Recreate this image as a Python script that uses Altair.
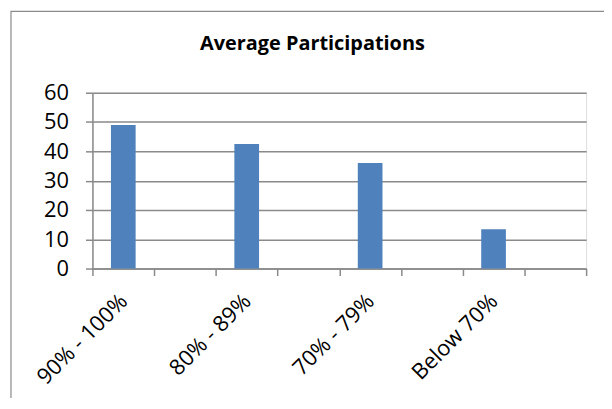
import altair as alt
import pandas as pd

categories = ["90% - 100%", "80% - 89%", "70% - 79%", "Below 70%"]
values = [49.0, 42.5, 36.0, 13.4]
gaps = [" ", "  ", "   ", "    "]
y_ticks = [0, 10, 20, 30, 40, 50, 60]

domain = []
for c, g in zip(categories, gaps):
    domain += [c, g]

df = pd.DataFrame({"cat": categories, "val": values})
border_df = pd.DataFrame({"b": [0]})

W, H = 497, 177
GRAY = "#8a8a8a"
FONT = "Open Sans"

border = alt.Chart(border_df).mark_rect(
    filled=False, stroke=GRAY, strokeWidth=1.2, clip=False
).encode(
    x=alt.value(-82), x2=alt.value(W + 200),
    y=alt.value(-82), y2=alt.value(H + 300),
)

bars = alt.Chart(df).mark_bar(
    color="#4f81bd", width=alt.RelativeBandSize(0.4)
).encode(
    x=alt.X("cat:N", sort=domain,
            scale=alt.Scale(domain=domain, paddingInner=0, paddingOuter=0),
            axis=alt.Axis(title=None, tickBand="extent", tickSize=7, tickColor=GRAY,
                          tickWidth=1.5, domainColor=GRAY, domainWidth=1.5,
                          labelAngle=315, labelAlign="right", labelBaseline="alphabetic",
                          labelPadding=27, labelOffset=5, labelFont=FONT, labelFontSize=22,
                          labelColor="black", grid=False, labelOverlap=False)),
    y=alt.Y("val:Q", scale=alt.Scale(domain=[0, 60], nice=False),
            axis=alt.Axis(title=None, values=y_ticks, tickSize=7, tickColor=GRAY,
                          tickWidth=1.5, domainColor=GRAY, domainWidth=1.5,
                          grid=True, gridColor=GRAY, gridWidth=1.5,
                          labelPadding=17, labelFont=FONT, labelFontSize=22,
                          labelColor="black")),
)

chart = alt.layer(border, bars).properties(
    width=W, height=H,
    title=alt.Title("Average Participations", font=FONT, fontSize=20,
                    fontWeight="bold", color="black", anchor="middle",
                    dx=-27, dy=60, offset=0, baseline="alphabetic", frame="group"),
    autosize=alt.AutoSizeParams(type="none"),
    padding={"left": 85, "top": 84, "right": 18, "bottom": 129},
).configure_view(stroke=None).configure(background="white")

chart.save("out.html", embed_options={"renderer": "svg", "actions": False})
